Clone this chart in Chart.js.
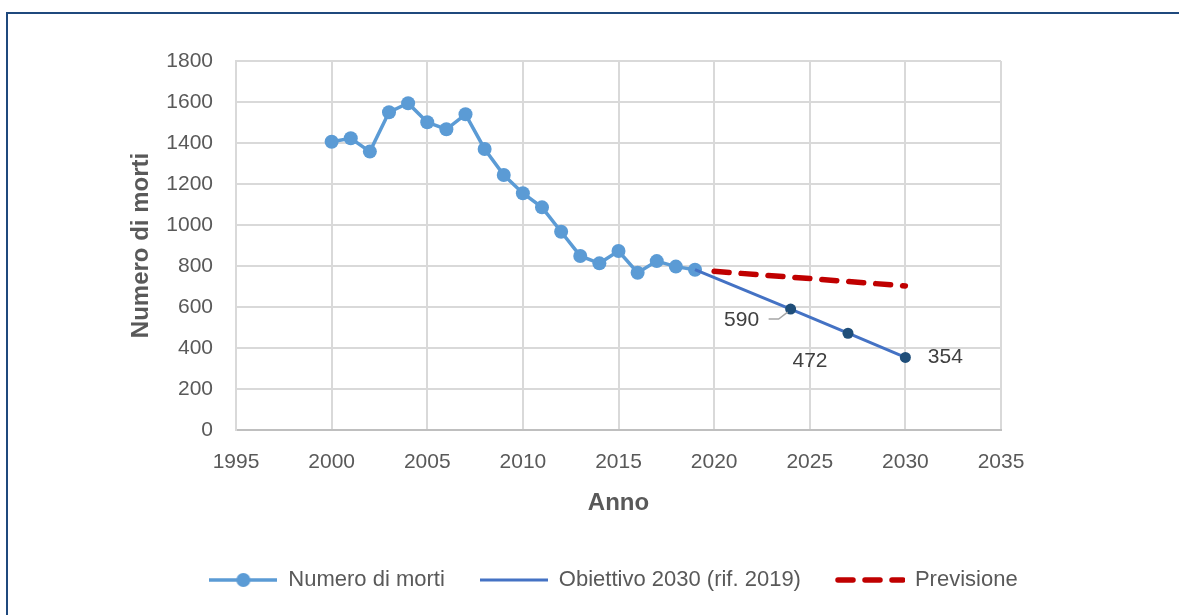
<!DOCTYPE html>
<html lang="it">
<head>
<meta charset="utf-8">
<title>Numero di morti</title>
<script src="https://cdn.jsdelivr.net/npm/chart.js@4.4.0/dist/chart.umd.min.js"></script>
<style>
  html, body { margin: 0; padding: 0; background: #fff; overflow: hidden; }
  #cornice {
    position: absolute; left: 6px; top: 12px; width: 1400px; height: 900px;
    border-left: 2px solid #1F497D; border-top: 2px solid #1F497D;
  }
  #grafico { position: absolute; left: 0; top: 0; }
</style>
</head>
<body>
<div id="cornice"></div>
<canvas id="grafico" width="1179" height="615"></canvas>
<script>
// serie storica
const anni = [2000, 2001, 2002, 2003, 2004, 2005, 2006, 2007, 2008, 2009,
              2010, 2011, 2012, 2013, 2014, 2015, 2016, 2017, 2018, 2019];
const morti = [1406, 1423, 1358, 1550, 1594, 1501, 1467, 1540, 1371, 1244,
               1155, 1086, 967, 849, 813, 873, 767, 824, 797, 782];

// obiettivo 2030 e previsione
const anniObiettivo = [2019, 2024, 2027, 2030];
const obiettivo = [782, 590, 472, 354];
const anniPrevisione = [2020, 2030];
const previsione = [774, 703];

// assi
const annoMin = 1995, annoMax = 2035, annoPasso = 5;
const mortiMin = 0, mortiMax = 1800, mortiPasso = 200;

const legendaVoci = ['Numero di morti', 'Obiettivo 2030 (rif. 2019)', 'Previsione'];

const coloreMorti = '#5B9BD5';
const coloreObiettivo = '#4472C4';
const colorePunti = '#1F4E79';
const colorePrevisione = '#C00000';
const grigioTesto = '#595959';
const font = 'Liberation Sans';

function coppie(xs, ys) {
    return xs.map((x, i) => ({ x: x, y: ys[i] }));
}

// piccoli campioni disegnati per la legenda
function campioneMorti() {
    const c = document.createElement('canvas');
    c.width = 68; c.height = 16;
    const g = c.getContext('2d');
    g.strokeStyle = coloreMorti; g.lineWidth = 3.5;
    g.beginPath(); g.moveTo(0, 8); g.lineTo(68, 8); g.stroke();
    g.fillStyle = coloreMorti;
    g.beginPath(); g.arc(34, 8, 7, 0, Math.PI * 2); g.fill();
    return c;
}

function campioneObiettivo() {
    const c = document.createElement('canvas');
    c.width = 68; c.height = 6;
    const g = c.getContext('2d');
    g.strokeStyle = coloreObiettivo; g.lineWidth = 3;
    g.beginPath(); g.moveTo(0, 3); g.lineTo(68, 3); g.stroke();
    return c;
}

function campionePrevisione() {
    const c = document.createElement('canvas');
    c.width = 70; c.height = 8;
    const g = c.getContext('2d');
    g.strokeStyle = colorePrevisione; g.lineWidth = 5.5; g.lineCap = 'round';
    g.setLineDash([15, 12]);
    g.beginPath(); g.moveTo(3, 4); g.lineTo(68, 4); g.stroke();
    return c;
}

const campioni = [campioneMorti(), campioneObiettivo(), campionePrevisione()];

// etichette dei valori obiettivo
const spostamenti = { 1: [-49, 11], 2: [-38, 28], 3: [40, 0] };
const etichetteObiettivo = {
    id: 'etichetteObiettivo',
    afterDatasetsDraw(chart) {
        const ctx = chart.ctx;
        const meta = chart.getDatasetMeta(1);
        ctx.save();
        ctx.font = '21px "' + font + '"';
        ctx.fillStyle = '#404040';
        ctx.textAlign = 'center';
        ctx.textBaseline = 'middle';
        Object.keys(spostamenti).forEach(k => {
            const p = meta.data[k];
            const d = spostamenti[k];
            ctx.fillText(String(obiettivo[k]), p.x + d[0], p.y + d[1]);
            if (k === '1') {
                ctx.strokeStyle = '#A6A6A6';
                ctx.lineWidth = 1.5;
                ctx.beginPath();
                ctx.moveTo(p.x - 22, p.y + 10);
                ctx.lineTo(p.x - 12, p.y + 10);
                ctx.lineTo(p.x - 3, p.y + 3);
                ctx.stroke();
            }
        });
        ctx.restore();
    }
};

// altezza fissa della legenda
const altezzaLegenda = {
    id: 'altezzaLegenda',
    beforeInit(chart) {
        const fit = chart.legend.fit;
        chart.legend.fit = function () {
            fit.call(this);
            this.height = 81;
        };
    }
};

new Chart(document.getElementById('grafico'), {
    type: 'line',
    data: {
        datasets: [{
            label: legendaVoci[0],
            data: coppie(anni, morti),
            borderColor: coloreMorti,
            backgroundColor: coloreMorti,
            borderWidth: 3.5,
            pointRadius: 7,
            pointBorderWidth: 0,
            order: 1
        }, {
            label: legendaVoci[1],
            data: coppie(anniObiettivo, obiettivo),
            borderColor: coloreObiettivo,
            backgroundColor: colorePunti,
            borderWidth: 3,
            pointRadius: [0, 5.5, 5.5, 5.5],
            pointBorderWidth: 0,
            order: 0
        }, {
            label: legendaVoci[2],
            data: coppie(anniPrevisione, previsione),
            borderColor: colorePrevisione,
            borderWidth: 5.5,
            borderDash: [15, 12],
            borderCapStyle: 'round',
            pointRadius: 0,
            order: 2
        }]
    },
    options: {
        responsive: false,
        animation: false,
        layout: { padding: { left: 127, right: 79, top: 61, bottom: 0 } },
        plugins: {
            tooltip: { enabled: false },
            legend: {
                position: 'bottom',
                labels: {
                    usePointStyle: true,
                    pointStyleWidth: 68,
                    padding: 35,
                    color: grigioTesto,
                    font: { size: 22, family: font },
                    generateLabels: () => legendaVoci.map((t, i) => ({
                        text: t,
                        pointStyle: campioni[i],
                        fontColor: grigioTesto,
                        hidden: false,
                        datasetIndex: i,
                        lineWidth: 0
                    }))
                }
            }
        },
        scales: {
            x: {
                type: 'linear',
                min: annoMin,
                max: annoMax,
                afterFit: s => { s.height = 104; },
                ticks: {
                    stepSize: annoPasso,
                    padding: 20,
                    color: grigioTesto,
                    font: { size: 21, family: font },
                    callback: v => String(v)
                },
                grid: { color: '#D9D9D9', lineWidth: 2, drawTicks: false },
                border: { color: '#BFBFBF', width: 2 },
                title: {
                    display: true,
                    text: 'Anno',
                    color: grigioTesto,
                    font: { size: 24, weight: 'bold', family: font },
                    padding: { top: 0, bottom: 16 }
                }
            },
            y: {
                min: mortiMin,
                max: mortiMax,
                afterFit: s => { s.width = 109; },
                ticks: {
                    stepSize: mortiPasso,
                    padding: 23,
                    color: grigioTesto,
                    font: { size: 21, family: font },
                    callback: v => String(v)
                },
                grid: { color: '#D9D9D9', lineWidth: 2, drawTicks: false },
                border: { color: '#D9D9D9', width: 2 },
                title: {
                    display: true,
                    text: 'Numero di morti',
                    color: grigioTesto,
                    font: { size: 24, weight: 'bold', family: font },
                    padding: 0
                }
            },
            // spazio vuoto a destra dell'area del grafico
            margine: {
                type: 'linear',
                position: 'right',
                afterFit: s => { s.width = 99; },
                ticks: { display: false },
                grid: { display: false },
                border: { display: false }
            }
        }
    },
    plugins: [etichetteObiettivo, altezzaLegenda]
});
</script>
</body>
</html>
